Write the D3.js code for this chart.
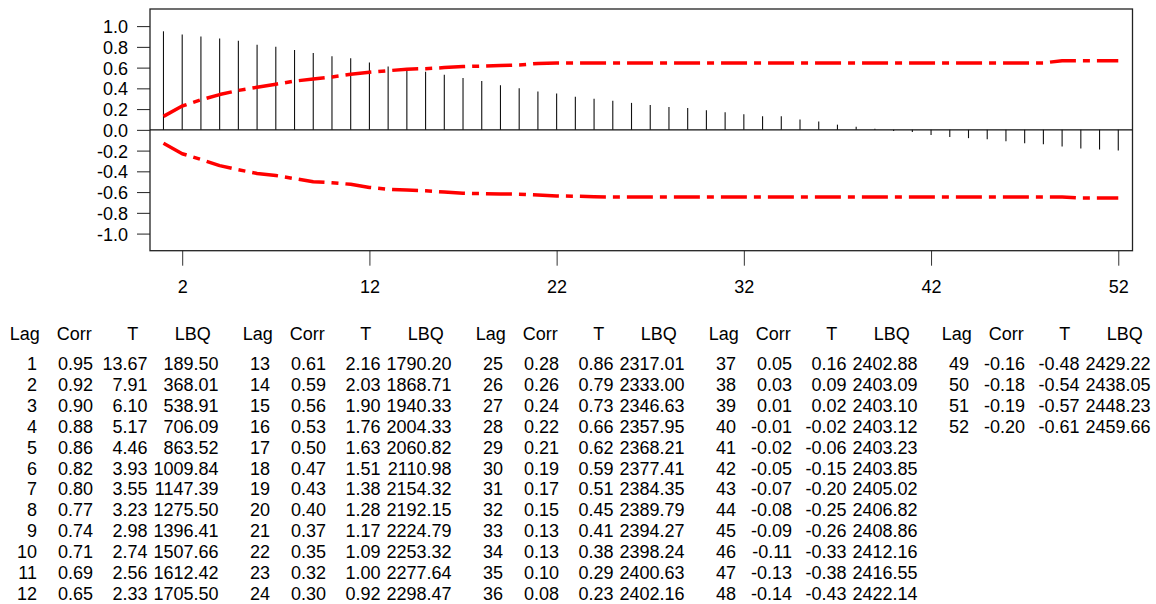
<!DOCTYPE html>
<html>
<head>
<meta charset="utf-8">
<script src="https://cdn.jsdelivr.net/npm/d3@7"></script>
<style>
  html, body { margin: 0; padding: 0; background: #ffffff; }
  svg { display: block; }
  text { font-family: "Liberation Sans", Arial, Helvetica, sans-serif; fill: #000; }
</style>
</head>
<body>
<svg id="chart" width="1156" height="604"></svg>
<script>
// Autocorrelation function, lags 1..52
const lags = d3.range(1, 53);

const corrValues = [
  0.95, 0.92, 0.90, 0.88, 0.86, 0.82, 0.80, 0.77, 0.74, 0.71, 0.69, 0.65,
  0.61, 0.59, 0.56, 0.53, 0.50, 0.47, 0.43, 0.40, 0.37, 0.35, 0.32, 0.30,
  0.28, 0.26, 0.24, 0.22, 0.21, 0.19, 0.17, 0.15, 0.13, 0.13, 0.10, 0.08,
  0.05, 0.03, 0.01, -0.01, -0.02, -0.05, -0.07, -0.08, -0.09, -0.11, -0.13, -0.14,
  -0.16, -0.18, -0.19, -0.20
];

const tValues = [
  13.67, 7.91, 6.10, 5.17, 4.46, 3.93, 3.55, 3.23, 2.98, 2.74, 2.56, 2.33,
  2.16, 2.03, 1.90, 1.76, 1.63, 1.51, 1.38, 1.28, 1.17, 1.09, 1.00, 0.92,
  0.86, 0.79, 0.73, 0.66, 0.62, 0.59, 0.51, 0.45, 0.41, 0.38, 0.29, 0.23,
  0.16, 0.09, 0.02, -0.02, -0.06, -0.15, -0.20, -0.25, -0.26, -0.33, -0.38, -0.43,
  -0.48, -0.54, -0.57, -0.61
];

const lbqValues = [
  189.50, 368.01, 538.91, 706.09, 863.52, 1009.84, 1147.39, 1275.50, 1396.41, 1507.66, 1612.42, 1705.50,
  1790.20, 1868.71, 1940.33, 2004.33, 2060.82, 2110.98, 2154.32, 2192.15, 2224.79, 2253.32, 2277.64, 2298.47,
  2317.01, 2333.00, 2346.63, 2357.95, 2368.21, 2377.41, 2384.35, 2389.79, 2394.27, 2398.24, 2400.63, 2402.16,
  2402.88, 2403.09, 2403.10, 2403.12, 2403.23, 2403.85, 2405.02, 2406.82, 2408.86, 2412.16, 2416.55, 2422.14,
  2429.22, 2438.05, 2448.23, 2459.66
];

// Significance limits (upper and lower), one per lag
const upperLimit = [
  0.13, 0.23, 0.29, 0.34, 0.38, 0.41, 0.44, 0.47, 0.49, 0.51, 0.535, 0.555,
  0.57, 0.585, 0.59, 0.60, 0.61, 0.615, 0.62, 0.625, 0.64, 0.645, 0.645, 0.645,
  0.645, 0.645, 0.645, 0.645, 0.645, 0.645, 0.645, 0.645, 0.645, 0.645, 0.645, 0.645,
  0.645, 0.645, 0.645, 0.645, 0.645, 0.645, 0.645, 0.645, 0.645, 0.645, 0.645, 0.645,
  0.667, 0.667, 0.667, 0.667
];

const lowerLimit = [
  -0.13, -0.23, -0.285, -0.345, -0.385, -0.42, -0.44, -0.47, -0.50, -0.51, -0.525, -0.555,
  -0.573, -0.58, -0.588, -0.60, -0.612, -0.615, -0.618, -0.62, -0.627, -0.637, -0.64, -0.645,
  -0.648, -0.648, -0.648, -0.648, -0.648, -0.648, -0.648, -0.648, -0.648, -0.648, -0.648, -0.648,
  -0.648, -0.648, -0.648, -0.648, -0.648, -0.648, -0.648, -0.648, -0.648, -0.648, -0.648, -0.648,
  -0.648, -0.658, -0.658, -0.658
];

const xTickValues = [2, 12, 22, 32, 42, 52];
const yTickValues = [-1.0, -0.8, -0.6, -0.4, -0.2, 0.0, 0.2, 0.4, 0.6, 0.8, 1.0];

const tableHeaders = ["Lag", "Corr", "T", "LBQ"];
const rowsPerBlock = 12;

// ---------------------------------------------------------------
const svg = d3.select("#chart");
svg.append("rect").attr("width", 1156).attr("height", 604).attr("fill", "#fff");

const x = d3.scaleLinear().domain([0.28, 52.76]).range([150, 1132.5]);
const y = d3.scaleLinear().domain([-1.165, 1.165]).range([250.7, 9]);

const fmt1 = v => v.toFixed(1);
const fmt2 = v => v.toFixed(2);

// Y axis
const yAxis = svg.append("g")
  .attr("transform", `translate(${x.range()[0]},0)`)
  .call(d3.axisLeft(y).tickValues(yTickValues).tickSize(13).tickPadding(9).tickFormat(fmt1));
yAxis.select(".domain").remove();
yAxis.selectAll(".tick line").attr("stroke", "#222").attr("stroke-width", 1);
yAxis.selectAll(".tick text")
  .attr("font-size", 18)
  .attr("dy", "0.36em")
  .style("font-family", '"Liberation Sans", Arial, sans-serif');

// X axis
const xAxis = svg.append("g")
  .attr("transform", `translate(0,${y.range()[0]})`)
  .call(d3.axisBottom(x).tickValues(xTickValues).tickSize(15).tickPadding(15).tickFormat(d3.format("d")));
xAxis.select(".domain").remove();
xAxis.selectAll(".tick line").attr("stroke", "#333").attr("stroke-width", 1);
xAxis.selectAll(".tick text")
  .attr("font-size", 18)
  .style("font-family", '"Liberation Sans", Arial, sans-serif');

// Plot frame
svg.append("rect")
  .attr("x", x.range()[0])
  .attr("y", y.range()[1])
  .attr("width", x.range()[1] - x.range()[0])
  .attr("height", y.range()[0] - y.range()[1])
  .attr("fill", "none")
  .attr("stroke", "#222")
  .attr("stroke-width", 1.3);

// Zero reference line
svg.append("line")
  .attr("x1", x.range()[0]).attr("x2", x.range()[1])
  .attr("y1", y(0)).attr("y2", y(0))
  .attr("stroke", "#111")
  .attr("stroke-width", 1.3);

// Autocorrelation spikes
svg.append("g")
  .selectAll("line")
  .data(lags)
  .join("line")
  .attr("x1", (d, i) => x(d))
  .attr("x2", (d, i) => x(d))
  .attr("y1", y(0))
  .attr("y2", (d, i) => y(corrValues[i]))
  .attr("stroke", "#111")
  .attr("stroke-width", 1.1);

// Significance limit lines
const limitLine = vals => d3.line()
  .x((d, i) => x(d))
  .y((d, i) => y(vals[i]))(lags);

[upperLimit, lowerLimit].forEach(vals => {
  svg.append("path")
    .attr("d", limitLine(vals))
    .attr("fill", "none")
    .attr("stroke", "#ff0000")
    .attr("stroke-width", 3.5)
    .attr("stroke-dasharray", "26,7,7,7")
    .attr("stroke-linecap", "butt")
    .attr("stroke-linejoin", "round");
});

// ---------------------------------------------------------------
// Statistics table: five blocks of Lag / Corr / T / LBQ
const blockOffset = 233;
const headerCenters = [24.7, 74.2, 132.8, 192.8];
const valueRightEdges = [37, 93, 147.5, 218.5];
const headerBaseline = 340;
const firstRowBaseline = 370;
const rowStep = 20.9;

const table = svg.append("g")
  .attr("font-size", 18)
  .style("font-family", '"Liberation Sans", Arial, sans-serif');

const nBlocks = Math.ceil(lags.length / rowsPerBlock);
for (let b = 0; b < nBlocks; b++) {
  const ox = b * blockOffset;
  tableHeaders.forEach((h, c) => {
    table.append("text")
      .attr("x", ox + headerCenters[c])
      .attr("y", headerBaseline)
      .attr("text-anchor", "middle")
      .text(h);
  });
  const start = b * rowsPerBlock;
  const end = Math.min(start + rowsPerBlock, lags.length);
  for (let i = start; i < end; i++) {
    const r = i - start;
    const cells = [String(lags[i]), fmt2(corrValues[i]), fmt2(tValues[i]), fmt2(lbqValues[i])];
    cells.forEach((s, c) => {
      table.append("text")
        .attr("x", ox + valueRightEdges[c])
        .attr("y", firstRowBaseline + r * rowStep)
        .attr("text-anchor", "end")
        .text(s);
    });
  }
}
</script>
</body>
</html>
